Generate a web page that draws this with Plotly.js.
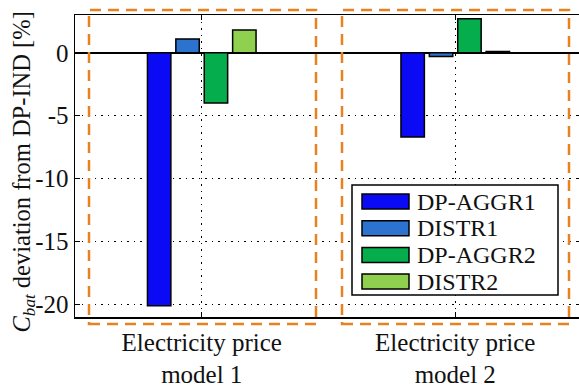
<!DOCTYPE html>
<html>
<head>
<meta charset="utf-8">
<script src="https://cdn.plot.ly/plotly-3.0.1.min.js"></script>
<style>
  html, body { margin: 0; padding: 0; background: #fff; overflow: hidden; }
  #chart { width: 586px; height: 385px; }
</style>
</head>
<body>
<div id="chart"></div>
<script>
// Battery capacity deviation from the DP-IND baseline, per pricing model
const categories = [1, 2];
const categoryLabels = ['Electricity price<br>model 1', 'Electricity price<br>model 2'];

const seriesNames = ['DP-AGGR1', 'DISTR1', 'DP-AGGR2', 'DISTR2'];
const seriesColors = ['#0a0af5', '#2c72cf', '#06ad4c', '#8fd14f'];

const dpAggr1 = [-20.1, -6.7];
const distr1 = [1.1, -0.3];
const dpAggr2 = [-4.0, 2.7];
const distr2 = [1.8, 0.1];
const seriesValues = [dpAggr1, distr1, dpAggr2, distr2];

const yTickVals = [0, -5, -10, -15, -20];
const yTickText = ['0', '-5', '-10', '-15', '-20'];

const yTitle = '<i>C</i><sub><i>bat</i></sub> deviation from DP-IND [%]';

const serif = 'Liberation Serif';
const ink = '#111';

const traces = seriesNames.map((name, i) => ({
  type: 'bar',
  name: name,
  x: categories,
  y: seriesValues[i],
  marker: { color: seriesColors[i], line: { color: '#000', width: 1.5 } },
  showlegend: false
}));

const shapes = [];
const annotations = [];
const orange = '#e8821f';

// Pixel -> paper helpers for the plot area (75..582 x 15..317)
const W = 507, H = 302, L = 75, T = 15;
const px = v => (v - L) / W;
const py = v => (T + H - v) / H;

// Dashed frames around each pricing-model group
[[89, 316], [342, 569]].forEach(([a, b]) => {
  shapes.push({
    type: 'rect', xref: 'paper', yref: 'paper',
    x0: px(a), x1: px(b), y0: py(324), y1: py(10),
    line: { color: orange, width: 2.5, dash: '11px,7px' },
    fillcolor: 'rgba(0,0,0,0)', layer: 'above'
  });
});

// Legend box with wide swatches
shapes.push({
  type: 'rect', xref: 'paper', yref: 'paper',
  x0: px(352), x1: px(558), y0: py(295), y1: py(185),
  line: { color: '#000', width: 1.5 }, fillcolor: '#fff', layer: 'above'
});

seriesNames.forEach((name, i) => {
  const cy = 201.5 + i * 26.7;
  shapes.push({
    type: 'rect', xref: 'paper', yref: 'paper',
    x0: px(362), x1: px(409), y0: py(cy + 7.5), y1: py(cy - 7.5),
    line: { color: '#000', width: 1.5 }, fillcolor: seriesColors[i], layer: 'above'
  });
  annotations.push({
    xref: 'paper', yref: 'paper', x: px(415), y: py(cy),
    xanchor: 'left', yanchor: 'middle', showarrow: false,
    text: name, font: { family: serif, size: 24, color: ink }
  });
});

// Vertical y-axis title
annotations.push({
  xref: 'paper', yref: 'paper', x: px(22.5), y: py(172),
  xanchor: 'center', yanchor: 'middle', showarrow: false, textangle: -90,
  text: yTitle, font: { family: serif, size: 24.5, color: ink }
});

const axisCommon = {
  showline: true, linecolor: '#000', linewidth: 1.5, mirror: 'ticks',
  ticks: 'inside', ticklen: 5, tickcolor: '#000',
  showgrid: true, gridcolor: '#000', gridwidth: 1, griddash: '1.5px,5px'
};

const layout = {
  width: 586, height: 385,
  margin: { l: 75, r: 4, t: 15, b: 68 },
  paper_bgcolor: '#fff', plot_bgcolor: '#fff',
  barmode: 'group', bargap: 0.552, bargroupgap: 0.175,
  font: { family: serif, size: 25, color: ink },
  xaxis: Object.assign({}, axisCommon, {
    range: [0.5, 2.5], tickvals: categories, ticktext: categoryLabels,
    zeroline: false, ticklabelstandoff: 2
  }),
  yaxis: Object.assign({}, axisCommon, {
    range: [-21, 3], tickvals: yTickVals, ticktext: yTickText,
    zeroline: true, zerolinecolor: '#000', zerolinewidth: 1.5
  }),
  shapes: shapes,
  annotations: annotations,
  showlegend: false
};

Plotly.newPlot('chart', traces, layout, { displayModeBar: false, staticPlot: true });
</script>
</body>
</html>
